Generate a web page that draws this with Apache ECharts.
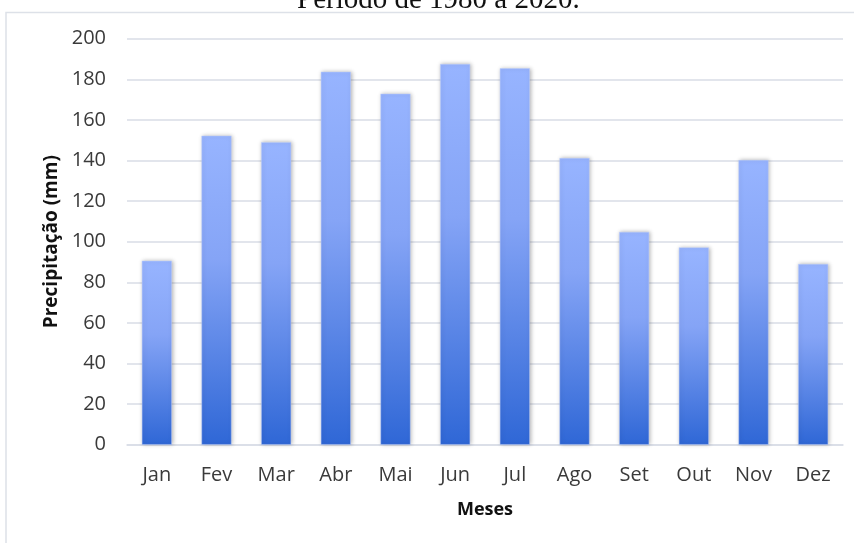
<!DOCTYPE html>
<html>
<head>
<meta charset="utf-8">
<script src="https://cdn.jsdelivr.net/npm/echarts@6/dist/echarts.min.js"></script>
<style>
html,body{margin:0;padding:0;background:#fff;}
#chart{width:854px;height:543px;}
</style>
</head>
<body>
<div id="chart"></div>
<script>
const titleText = 'Período de 1980 a 2020.';
const categories = ['Jan','Fev','Mar','Abr','Mai','Jun','Jul','Ago','Set','Out','Nov','Dez'];
const precipitation = [90.6, 152.2, 149.0, 183.7, 172.9, 187.5, 185.4, 141.2, 104.8, 97.2, 140.2, 89.0];
const yName = 'Precipitação (mm)';
const xName = 'Meses';

const chart = echarts.init(document.getElementById('chart'), null, {renderer:'canvas'});
const labelFont = '"Open Sans", "Noto Sans", sans-serif';
chart.setOption({
  animation: false,
  backgroundColor: '#ffffff',
  title: {
    text: titleText,
    left: 292,
    top: -19,
    textStyle: {fontFamily: '"Liberation Serif", "DejaVu Serif", serif', fontSize: 29, fontWeight: 'normal', color: '#111'}
  },
  graphic: [{
    type: 'rect',
    shape: {x: 6, y: 12.5, width: 900, height: 600},
    style: {fill: 'none', stroke: '#dde1e8', lineWidth: 1.5},
    silent: true,
    z: -10
  }],
  grid: {left: 127, right: 11, top: 38.7, bottom: 98.3, containLabel: false},
  xAxis: {
    type: 'category',
    data: categories,
    name: xName,
    nameLocation: 'middle',
    nameGap: 56,
    nameTextStyle: {fontFamily: labelFont, fontSize: 18, fontWeight: 'bold', color: '#111'},
    axisLine: {show: true, lineStyle: {color: '#d9dde6', width: 1.5}},
    axisTick: {show: false},
    axisLabel: {fontFamily: labelFont, fontSize: 20, color: '#3a3a3a', margin: 21}
  },
  yAxis: {
    type: 'value',
    min: 0,
    max: 200,
    interval: 20,
    name: yName,
    nameLocation: 'middle',
    nameGap: 66,
    nameRotate: 90,
    nameTextStyle: {fontFamily: labelFont, fontSize: 19, fontWeight: 'bold', color: '#111'},
    axisLine: {show: false},
    axisTick: {show: false},
    axisLabel: {fontFamily: labelFont, fontSize: 20, color: '#3a3a3a', margin: 21},
    splitLine: {lineStyle: {color: '#d9dde6', width: 1.5}}
  },
  series: [{
    type: 'bar',
    data: precipitation,
    barWidth: 30,
    itemStyle: {
      color: new echarts.graphic.LinearGradient(0, 0, 0, 1, [
        {offset: 0, color: '#97b4ff'},
        {offset: 0.4, color: '#85a4f6'},
        {offset: 1, color: '#2f67d6'}
      ]),
      borderColor: 'rgba(190,208,255,0.9)',
      borderWidth: 0.5,
      shadowColor: 'rgba(0,0,0,0.28)',
      shadowBlur: 4,
      shadowOffsetX: 1,
      shadowOffsetY: 0
    }
  }]
});
</script>
</body>
</html>
